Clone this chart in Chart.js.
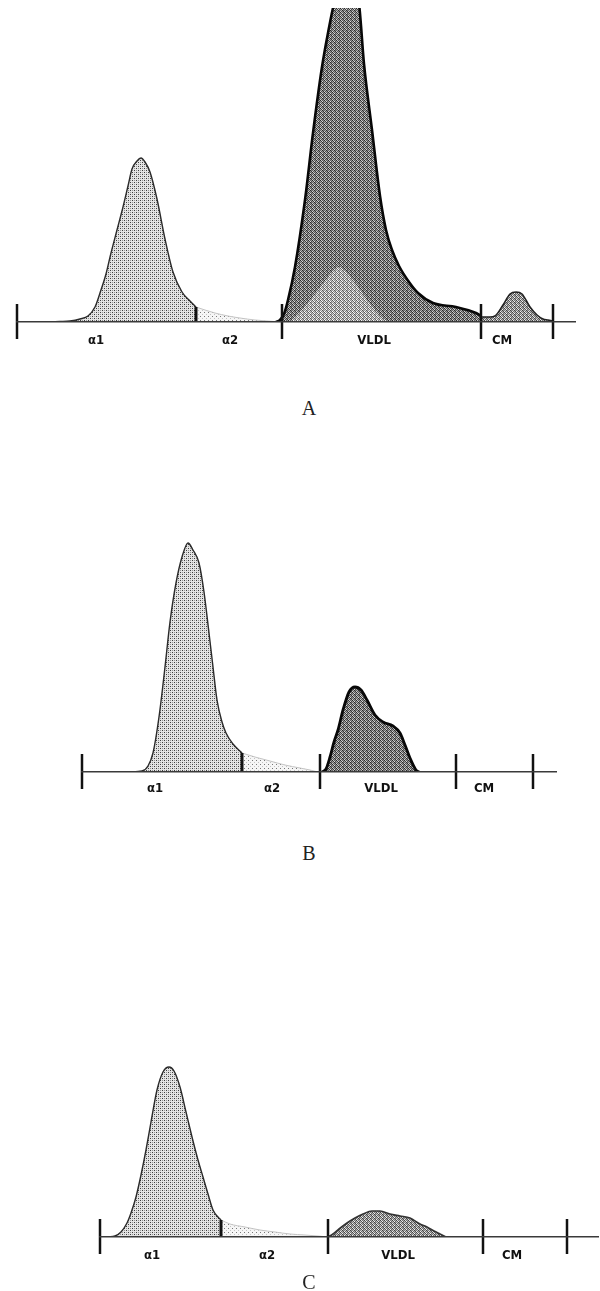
<!DOCTYPE html>
<html><head><meta charset="utf-8">
<script src="https://cdn.jsdelivr.net/npm/chart.js@4.4.1/dist/chart.umd.min.js"></script>
<style>
html,body{margin:0;padding:0;background:#fff;}
#page{position:relative;width:600px;height:1291px;overflow:hidden;background:#fff;}
canvas{position:absolute;left:0;}
.cap{position:absolute;width:60px;margin-left:-30px;text-align:center;font-family:"Liberation Serif","DejaVu Serif",serif;font-size:20px;line-height:20px;color:#222;}
</style></head><body>
<div id="page">
<canvas id="cA" width="600" height="360" style="top:0px"></canvas>
<canvas id="cB" width="600" height="340" style="top:480px"></canvas>
<canvas id="cC" width="600" height="280" style="top:1000px"></canvas>
<div class="cap" style="left:309px;top:398px">A</div>
<div class="cap" style="left:309px;top:843px">B</div>
<div class="cap" style="left:309px;top:1272px">C</div>
</div>
<script>
// ---------- DATA (x = distance along the strip from the left mark, y = densitometer height) ----------
const fractionNames = ['α1', 'α2', 'VLDL', 'CM'];

// Panel A
const A_a1_x = [28, 43, 53, 63, 71, 78, 83, 89, 94, 100, 106, 111, 115, 120, 124, 128, 133, 140, 148, 156, 165, 173, 179];
const A_a1_y = [0, 0.5, 1, 3, 6, 15, 29, 48, 69, 92, 115, 136, 153, 161, 164, 160, 150, 123, 83, 50, 30, 21, 15];
const A_a2_x = [179, 188, 198, 211, 223, 238, 251, 263];
const A_a2_y = [15, 12, 9, 6, 4, 2, 1, 0];
const A_vldl_x = [259, 263, 267, 271, 278, 288, 296, 305, 311, 317, 323, 330, 336, 342, 347, 355, 363, 369, 375, 382, 392, 401, 416, 439, 459, 464];
const A_vldl_y = [0, 2, 8, 22, 55, 122, 189, 255, 289, 318, 334, 338, 333, 318, 258, 192, 126, 92, 72, 56, 40, 29, 19, 15, 9, 6];
const A_sub_x = [273, 283, 298, 311, 317, 322, 327, 336, 348, 358, 368, 375];
const A_sub_y = [0, 10, 28, 45, 52, 55, 52, 42, 25, 12, 2, 0];
const A_cm_x = [464, 473, 478, 486, 493, 499, 505, 513, 520, 526, 531, 536];
const A_cm_y = [5, 5, 6, 17, 28, 30, 28, 15, 7, 3, 2, 1];
const A_marks = [0, 179, 265, 464, 536];
const A_labelPos = [79, 213, 357, 485];
const A_xMax = 558, A_yMax = 314;

// Panel B
const B_a1_x = [48, 60, 66, 71, 77, 83, 88, 94, 100, 106, 111, 117, 122, 127, 131, 135, 140, 144, 151, 160];
const B_a1_y = [0, 1, 6, 19, 55, 105, 150, 189, 215, 229, 222, 209, 180, 139, 105, 72, 50, 39, 28, 19];
const B_a2_x = [160, 173, 188, 203, 218, 228, 236];
const B_a2_y = [19, 15, 11, 7, 4, 2, 0];
const B_vldl_x = [240, 244, 248, 252, 256, 261, 267, 273, 279, 285, 293, 301, 311, 318, 323, 328, 334, 337];
const B_vldl_y = [0, 3, 15, 30, 42, 62, 80, 85, 82, 72, 57, 50, 46, 39, 27, 14, 2, 0];
const B_marks = [0, 160, 238, 374, 451];
const B_labelPos = [73, 190, 299, 402];
const B_xMax = 474, B_yMax = 252;

// Panel C
const C_a1_x = [8, 15, 21, 27, 31, 36, 41, 46, 51, 57, 63, 69, 74, 80, 86, 92, 98, 103, 108, 113, 118, 121];
const C_a1_y = [0, 1, 5, 14, 24, 40, 62, 87, 115, 147, 165, 170, 166, 150, 125, 100, 77, 60, 43, 27, 20, 17];
const C_a2_x = [121, 130, 145, 160, 175, 190, 205, 218, 228];
const C_a2_y = [17, 13, 10, 7, 5, 3, 2, 1, 0];
const C_vldl_x = [228, 233, 239, 247, 255, 263, 272, 280, 290, 300, 310, 320, 327, 334, 340, 346];
const C_vldl_y = [0, 3, 8, 14, 19, 23, 26, 26, 23, 21, 19, 13, 10, 6, 3, 0];
const C_marks = [0, 121, 228, 383, 467];
const C_labelPos = [52, 167, 298, 412];
const C_xMax = 498, C_yMax = 197;

// ---------- STYLE ----------
function makePattern(matrix) {
  const n = matrix.length, c = document.createElement('canvas');
  c.width = n; c.height = n;
  const g = c.getContext('2d');
  matrix.forEach((row, j) => row.forEach((v, i) => { g.fillStyle = 'rgb(' + v + ',' + v + ',' + v + ')'; g.fillRect(i, j, 1, 1); }));
  return g.createPattern(c, 'repeat');
}
const LIGHT = [[60,228,150,228],[228,228,228,228],[150,228,60,228],[228,228,228,228]];
const PALE  = [[120,246,246,246],[246,246,246,246],[246,246,195,246],[246,246,246,246]];
const DARK  = [[40,200,90,150],[160,60,220,70],[100,180,40,130],[210,80,150,50]];
const pLight = makePattern(LIGHT);
const pPale = makePattern(PALE);
const pDark = makePattern(DARK);
const pSub = makePattern(DARK.map(r => r.map(v => Math.min(255, v + 48))));
const pCM = makePattern(DARK.map(r => r.map(v => Math.min(255, v + 25))));

const pts = (xs, ys) => xs.map((x, i) => ({x: x, y: ys[i]}));
function ds(xs, ys, fillPat, border, bw, order) {
  return { data: pts(xs, ys), backgroundColor: fillPat, borderColor: border, borderWidth: bw, fill: 'origin', order: order, pointRadius: 0 };
}

const dividerPlugin = {
  id: 'dividers',
  afterDatasetsDraw(chart, args, opts) {
    const ctx = chart.ctx, xs = chart.scales.x, ys = chart.scales.y;
    const y0 = ys.getPixelForValue(0);
    ctx.save();
    ctx.strokeStyle = '#111';
    ctx.lineCap = 'butt';
    opts.marks.forEach((v, i) => {
      const px = xs.getPixelForValue(v);
      ctx.beginPath();
      if (i === opts.splitIndex) {
        ctx.lineWidth = 3;
        ctx.moveTo(px, ys.getPixelForValue(opts.splitHeight));
        ctx.lineTo(px, y0);
      } else {
        ctx.lineWidth = 2.5;
        ctx.moveTo(px, y0 - 18);
        ctx.lineTo(px, y0 + 17);
      }
      ctx.stroke();
    });
    ctx.restore();
  }
};

function makeChart(id, cfg) {
  return new Chart(document.getElementById(id).getContext('2d'), {
    type: 'line',
    data: { datasets: cfg.datasets },
    options: {
      responsive: false,
      animation: false,
      events: [],
      layout: { padding: cfg.padding },
      elements: { point: { radius: 0, hoverRadius: 0 }, line: { cubicInterpolationMode: 'monotone' } },
      plugins: {
        legend: { display: false }, tooltip: { enabled: false }, title: { display: false },
        dividers: { marks: cfg.marks, splitIndex: 1, splitHeight: cfg.splitHeight }
      },
      scales: {
        x: {
          type: 'linear', min: 0, max: cfg.xMax,
          grid: { display: false, drawTicks: false },
          border: { display: true, color: '#3a3a3a', width: 1.6, z: 1 },
          afterBuildTicks: s => { s.ticks = cfg.labelPos.map(v => ({ value: v })); },
          afterFit: s => { s.height = 30; },
          ticks: {
            autoSkip: false, maxRotation: 0, minRotation: 0, padding: cfg.labelPad, color: '#111',
            font: { family: '"DejaVu Sans Condensed", "Liberation Sans Narrow", "DejaVu Sans", sans-serif', size: 13, weight: 'bold' },
            callback: (v, i) => fractionNames[i]
          }
        },
        y: { display: false, min: 0, max: cfg.yMax }
      }
    },
    plugins: [dividerPlugin]
  });
}

makeChart('cA', {
  datasets: [
    ds(A_sub_x, A_sub_y, pSub, 'rgba(0,0,0,0)', 0, 0),
    ds(A_a1_x, A_a1_y, pLight, '#2a2a2a', 1.4, 1),
    ds(A_a2_x, A_a2_y, pPale, '#c4c4c4', 1, 1),
    ds(A_vldl_x, A_vldl_y, pDark, '#080808', 2.6, 1),
    ds(A_cm_x, A_cm_y, pCM, '#222', 1.6, 1)
  ],
  padding: { left: 17, right: 25, top: 8, bottom: 8 },
  marks: A_marks, splitHeight: A_a1_y[A_a1_y.length - 1],
  labelPos: A_labelPos, labelPad: 11, xMax: A_xMax, yMax: A_yMax
});

makeChart('cB', {
  datasets: [
    ds(B_a1_x, B_a1_y, pLight, '#2a2a2a', 1.4, 1),
    ds(B_a2_x, B_a2_y, pPale, '#c4c4c4', 1, 1),
    ds(B_vldl_x, B_vldl_y, pDark, '#080808', 2.8, 1)
  ],
  padding: { left: 82, right: 44, top: 40, bottom: 18 },
  marks: B_marks, splitHeight: B_a1_y[B_a1_y.length - 1],
  labelPos: B_labelPos, labelPad: 9, xMax: B_xMax, yMax: B_yMax
});

makeChart('cC', {
  datasets: [
    ds(C_a1_x, C_a1_y, pLight, '#2a2a2a', 1.4, 1),
    ds(C_a2_x, C_a2_y, pPale, '#c4c4c4', 1, 1),
    ds(C_vldl_x, C_vldl_y, pCM, '#333', 1.6, 1)
  ],
  padding: { left: 100, right: 2, top: 40, bottom: 13 },
  marks: C_marks, splitHeight: C_a1_y[C_a1_y.length - 1],
  labelPos: C_labelPos, labelPad: 11, xMax: C_xMax, yMax: C_yMax
});
</script>
</body></html>
